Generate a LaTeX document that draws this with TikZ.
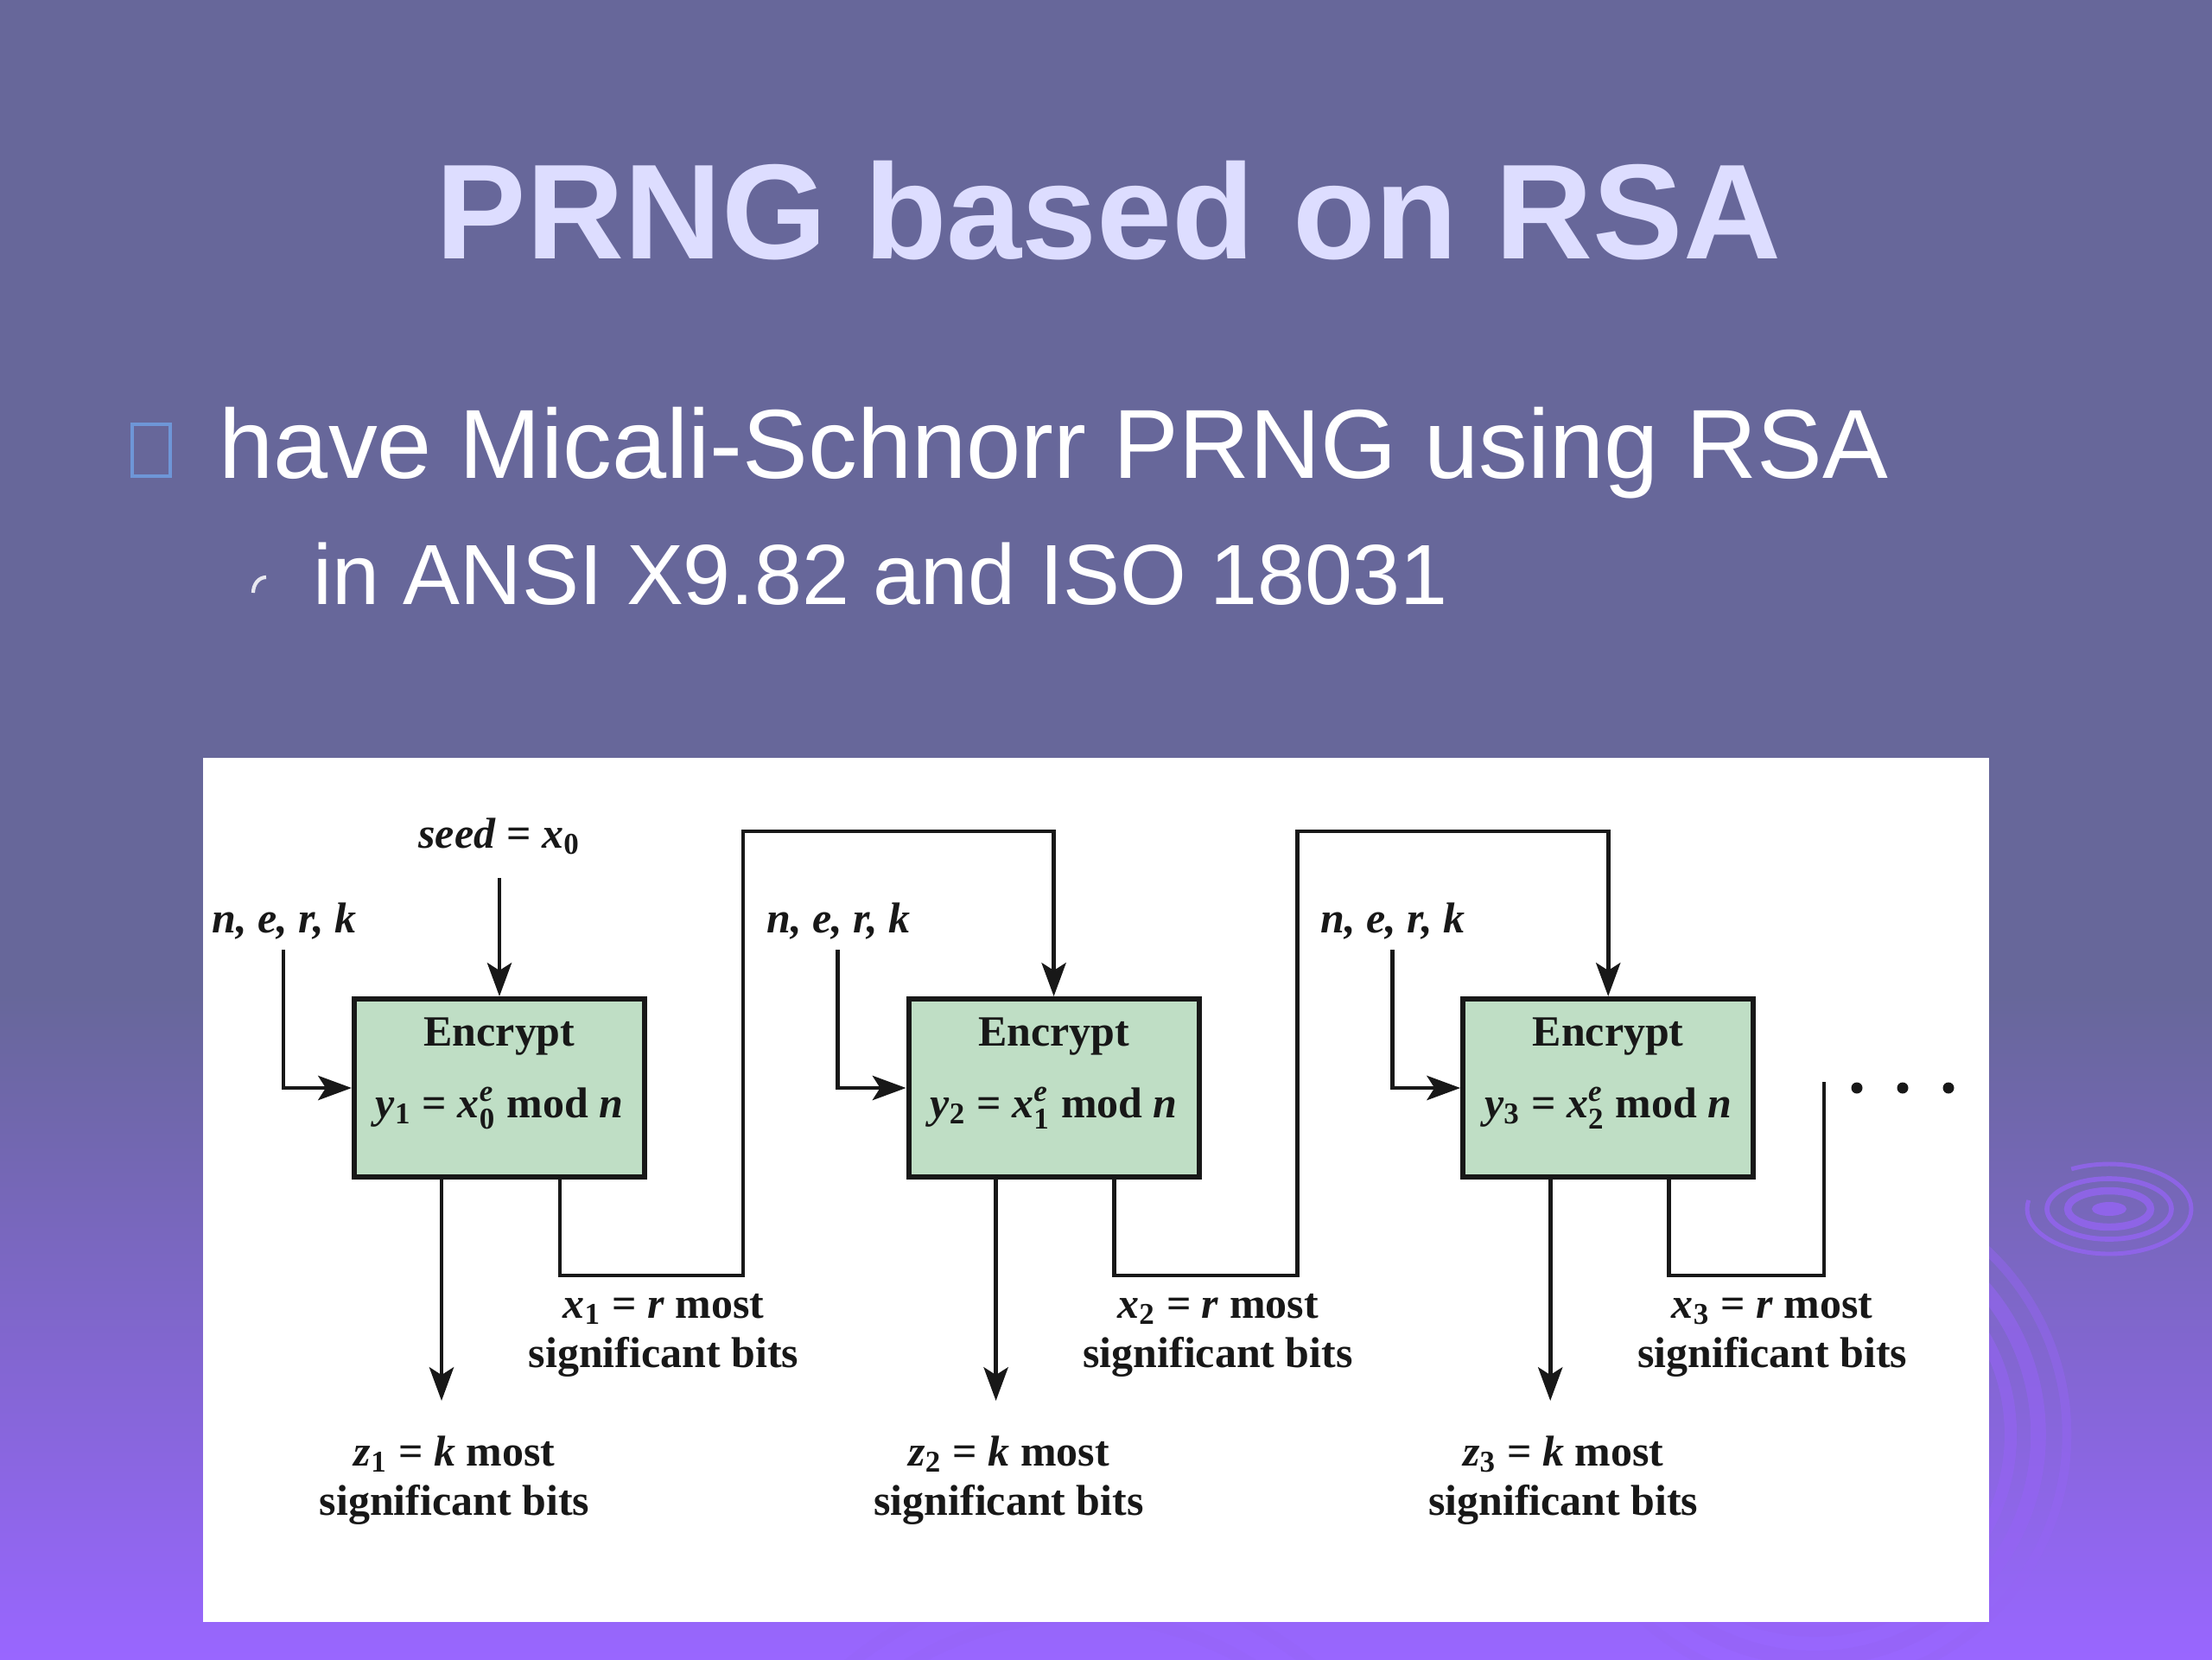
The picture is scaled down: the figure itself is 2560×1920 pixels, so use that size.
\documentclass[tikz,border=0pt]{standalone}
\usepackage{fontspec}
\usepackage{amsmath}
\setmainfont{Liberation Serif}
\newfontfamily\arialfont{Liberation Sans}
\usetikzlibrary{arrows.meta,calc}
\definecolor{bgslate}{RGB}{103,103,154}
\definecolor{bgpurple}{RGB}{153,102,255}
\definecolor{titlecol}{RGB}{221,221,255}
\definecolor{boxgreen}{RGB}{191,222,197}
\definecolor{ripplecol}{RGB}{150,100,245}
\definecolor{bulletblue}{RGB}{110,150,215}
\definecolor{ink}{RGB}{24,24,24}
\newcommand\iv[1]{\textit{#1}}
\newcommand\sbs[1]{\ensuremath{_{\text{#1}}}}
\begin{document}
\begin{tikzpicture}[x=0.01cm,y=-0.01cm,
  encbox/.style={draw=ink, fill=boxgreen, line width=1.7pt, minimum width=3.36cm, minimum height=2.06cm, inner sep=0pt},
  lbl/.style={font=\fontsize{14.2}{17}\selectfont\bfseries, text=ink, inner sep=0pt, anchor=base},
  conn/.style={draw=ink, line width=1.35pt},
  arr/.style={conn, -{Stealth[length=11pt,width=8pt,inset=2.5pt]}},
  ring/.style={draw=ripplecol, opacity=0.75},
]
\useasboundingbox (0,0) rectangle (2560,1920);
% background
\fill[bgslate] (0,0) rectangle (2560,1920);
\shade[top color=bgslate, bottom color=bgpurple] (0,1150) rectangle (2560,1920);
% ripples
\fill[ripplecol, opacity=0.8] (2441,1399) ellipse [x radius=20, y radius=8];
\draw[ring, line width=2.4pt] (2441,1399) ellipse [x radius=48, y radius=21];
\draw[ring, line width=1.6pt] (2441,1399) ellipse [x radius=72, y radius=35];
\draw[ring, line width=1.4pt, dash pattern=on 70pt off 18pt] (2441,1399) ellipse [x radius=95, y radius=52];
\draw[ring, line width=4pt, opacity=0.55] (2100,1660) circle [radius=227];
\draw[ring, line width=5pt, opacity=0.55] (2100,1660) circle [radius=259];
\draw[ring, line width=3pt, opacity=0.45] (2100,1660) circle [radius=292];
\draw[ring, line width=4pt, opacity=0.35] (1250,2250) circle [radius=380];
\draw[ring, line width=4pt, opacity=0.35] (1250,2250) circle [radius=420];
% white panel
\fill[white] (235,877) rectangle (2302,1877);
% title and bullets
\node[font=\arialfont\bfseries\fontsize{44.5}{50}\selectfont, text=titlecol, anchor=base, inner sep=0pt] (title) at (1283,299) {PRNG based on RSA};
\draw[bulletblue, line width=1.1pt] (153,491) rectangle (197,551);
\node[font=\arialfont\fontsize{32.3}{38}\selectfont, text=white, anchor=base west, inner sep=0pt] (b1) at (253,553) {have Micali-Schnorr PRNG using RSA};
\draw[white!85!bgslate, line width=1.2pt] (293,686) to[out=90,in=180] (308,668);
\node[font=\arialfont\fontsize{28.1}{33}\selectfont, text=white, anchor=base west, inner sep=0pt] (b2) at (362,699) {in ANSI X9.82 and ISO 18031};
% diagram
\node[lbl] (seed) at (578,981) {\iv{seed} = \iv{x}\sbs{0}};
\coordinate (seedS) at (578,1016);
\foreach \i [evaluate=\i as \off using {(\i-1)*641.6}] in {1,2,3} {
  \pgfmathtruncatemacro\prev{\i-1}
  \node[encbox] (enc\i) at ({578+\off},1259) {};
  \node[lbl] (encT\i) at ($(enc\i.center)+(0,-49)$) {Encrypt};
  \node[lbl] (encF\i) at ($(enc\i.center)+(0,34)$) {\iv{y}\sbs{\i} = \iv{x}$^{\text{\iv{e}}}_{\text{\prev}}$ mod \iv{n}};
  \node[lbl] (ner\i) at ({329+\off},1079) {\iv{n, e, r, k}};
  \coordinate (nerS\i) at ({328+\off},1099);
  \draw[arr] (nerS\i) |- (enc\i.west);
  \coordinate (zS\i) at ({511+\off},1362);
  \coordinate (zE\i) at ({511+\off},1621);
  \draw[arr] (zS\i) -- (zE\i);
  \node[lbl] (zl\i) at ({526+\off},1696) {\iv{z}\sbs{\i} = \iv{k} most};
  \node[lbl] (zb\i) at ({526+\off},1753) {significant bits};
  \coordinate (xS\i) at ({648+\off},1362);
  \node[lbl] (xl\i) at ({768+\off},1525) {\iv{x}\sbs{\i} = \iv{r} most};
  \node[lbl] (xb\i) at ({768+\off},1582) {significant bits};
}
\draw[arr] (seedS) -- (enc1.north);
\draw[arr] (xS1) -- ++(0,114) -| (860,962) -| (enc2.north);
\draw[arr] (xS2) -- ++(0,114) -| (1501.6,962) -| (enc3.north);
\coordinate (xEnd) at (2111,1252);
\draw[conn] (xS3) -- ++(0,114) -| (xEnd);
\fill[ink] (2149,1259) circle [radius=6.5];
\fill[ink] (2202,1259) circle [radius=6.5];
\fill[ink] (2255,1259) circle [radius=6.5];
\end{tikzpicture}
\end{document}
